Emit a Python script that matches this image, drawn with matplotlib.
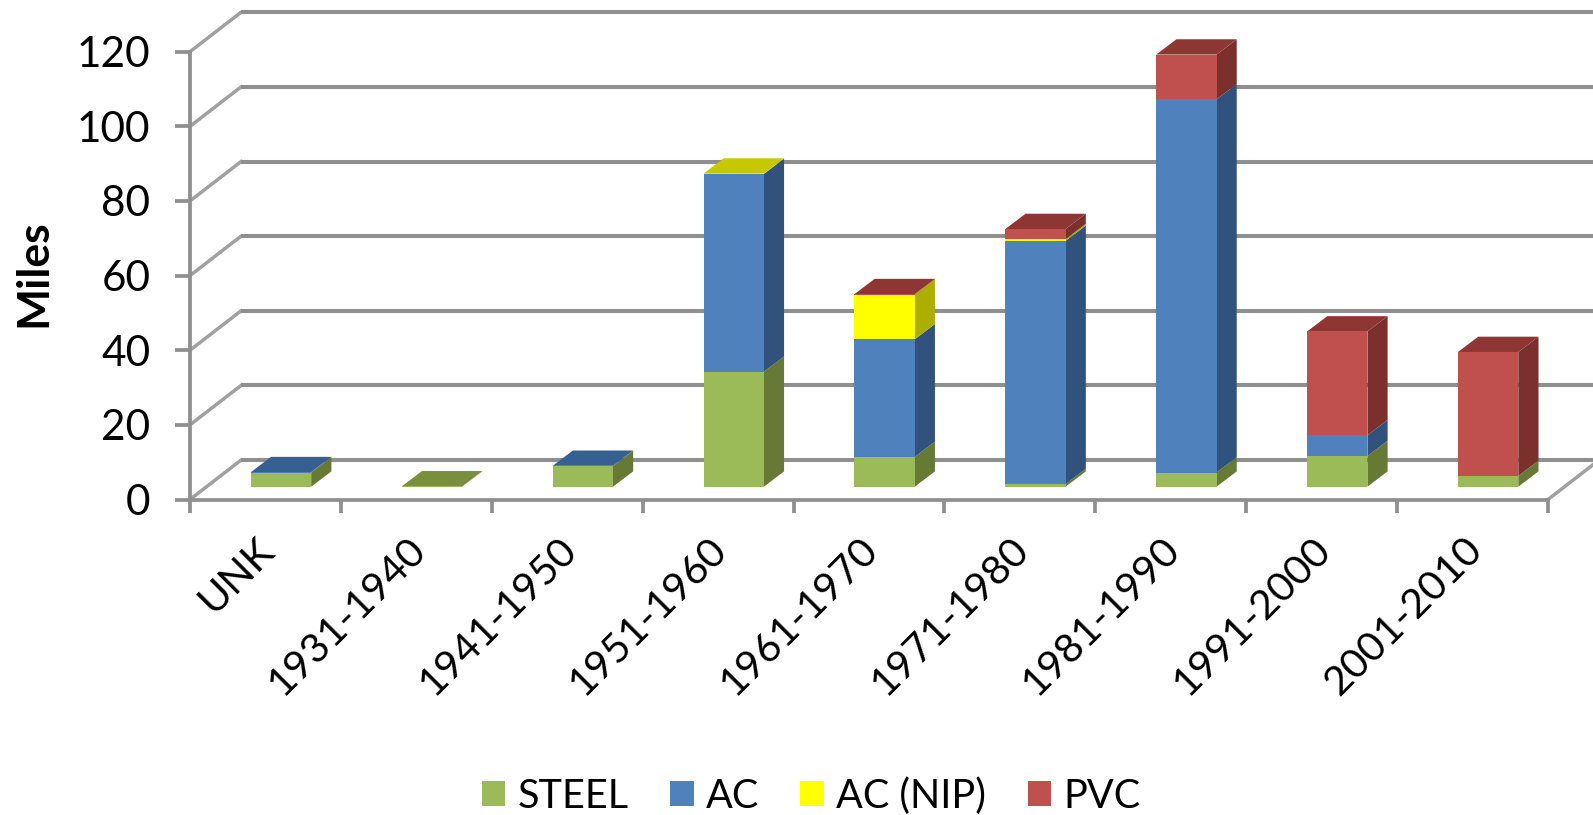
import matplotlib
matplotlib.use("Agg")
import matplotlib.pyplot as plt
import numpy as np
from matplotlib.patches import Patch
from matplotlib.transforms import ScaledTranslation

decades = ["UNK", "1931-1940", "1941-1950", "1951-1960", "1961-1970",
           "1971-1980", "1981-1990", "1991-2000", "2001-2010"]
steel = [3.8, 0.1, 5.5, 30.8, 8.0, 0.7, 3.8, 8.2, 2.9]
ac = [0.1, 0.0, 0.1, 53.0, 31.5, 65.2, 100.0, 5.6, 0.0]
ac_nip = [0.0, 0.0, 0.0, 0.1, 12.0, 0.45, 0.0, 0.0, 0.0]
pvc = [0.0, 0.0, 0.0, 0.0, 0.1, 2.7, 12.0, 27.8, 33.2]
y_ticks = [0, 20, 40, 60, 80, 100, 120]

names = ["STEEL", "AC", "AC (NIP)", "PVC"]
front_colors = ["#9bbb59", "#4f81bd", "#ffff00", "#c0504d"]
side_colors = ["#667a35", "#30527d", "#aeae00", "#7c302e"]
top_colors = ["#7a8f3e", "#365f92", "#c8c800", "#8e3634"]

GRID = "#8f8f8f"
DIAG = "#a0a0a0"
W, H = 1593, 815
X0, X1, Y0, Y120 = 190, 1548, 499.5, 51.7
PX_X = (X1 - X0) / 9
PX_Y = (Y0 - Y120) / 120


def draw_walls(ax: plt.Axes) -> None:
    '''Gridlines running back along the floor and the rear wall'''
    dx, dy = 51 / PX_X, 39.4 / PX_Y
    for v in y_ticks:
        ax.plot([0, dx], [v, v + dy], color=DIAG, lw=2.5,
                clip_on=False, zorder=1)
        ax.plot([dx, 9 + dx], [v + dy, v + dy], color=GRID, lw=2.9,
                clip_on=False, zorder=1, solid_capstyle="butt")
    ax.plot([9, 9 + dx], [0, dy], color=DIAG, lw=2.5,
            clip_on=False, zorder=1)


def draw_bars(ax: plt.Axes, fig: plt.Figure) -> None:
    '''Stacked bars with fake depth faces'''
    shift = ScaledTranslation(15.6 / fig.dpi, 12.8 / fig.dpi, fig.dpi_scale_trans)
    trans = ax.transData + shift
    dx, dy = 20.2 / PX_X, 15.3 / PX_Y
    width = 60.3 / PX_X
    series = [steel, ac, ac_nip, pvc]
    centers = np.arange(len(decades)) + 0.5
    bottom = np.zeros(len(decades))
    for vals, fc, sc in zip(series, front_colors, side_colors):
        vals = np.array(vals)
        ax.bar(centers, vals, width, bottom=bottom, color=fc, transform=trans,
               clip_on=False, zorder=3)
        for c, b, v in zip(centers, bottom, vals):
            if v > 0:
                r = c + width / 2
                ax.fill([r, r + dx, r + dx, r], [b, b + dy, b + v + dy, b + v],
                        color=sc, lw=0, transform=trans, clip_on=False, zorder=2)
        bottom += vals
    # lid takes the colour of the last series with a value
    for i, c in enumerate(centers):
        k = max(j for j, s in enumerate(series) if s[i] > 0)
        l, r = c - width / 2, c + width / 2
        t = bottom[i]
        ax.fill([l, r, r + dx, l + dx], [t, t, t + dy, t + dy],
                color=top_colors[k], lw=0, transform=trans, clip_on=False,
                zorder=2)


def main() -> None:
    plt.rcParams["font.family"] = ["Lato", "DejaVu Sans"]
    fig = plt.figure(figsize=(W / 100, H / 100), dpi=100)
    ax = fig.add_axes([X0 / W, 1 - Y0 / H, (X1 - X0) / W, (Y0 - Y120) / H])
    ax.set_xlim(0, 9)
    ax.set_ylim(0, 120)
    ax.patch.set_visible(False)

    for side in ["top", "right"]:
        ax.spines[side].set_visible(False)
    for side in ["left", "bottom"]:
        ax.spines[side].set_color(GRID)
        ax.spines[side].set_linewidth(2.7)

    draw_walls(ax)
    draw_bars(ax, fig)

    ax.set_yticks(y_ticks)
    ax.tick_params(axis="y", length=10.5, width=2.7, color=GRID,
                   labelsize=30.5, pad=18)
    ax.set_xticks(np.arange(10))
    ax.set_xticklabels([])
    ax.tick_params(axis="x", which="major", length=9.5, width=2.7, color=GRID)
    ax.set_xticks(np.arange(9) + 0.52, minor=True)
    ax.set_xticklabels(decades, minor=True, rotation=45, ha="right",
                       va="center", rotation_mode="anchor", fontsize=29.5)
    ax.tick_params(axis="x", which="minor", length=0, pad=32)

    fig.text(33 / W, 1 - 273 / H, "Miles", rotation=90, ha="center",
             va="center", fontsize=32, fontweight="bold")

    handles = [Patch(color=c, lw=0) for c in front_colors]
    fig.legend(handles, names, ncol=4, loc="center", frameon=False,
               bbox_to_anchor=(811 / W, 1 - 796 / H), fontsize=28.5,
               handlelength=0.6, handleheight=0.6, handletextpad=0.3,
               columnspacing=1.05, borderpad=0, borderaxespad=0)

    fig.savefig("out.png", dpi=100)


main()
